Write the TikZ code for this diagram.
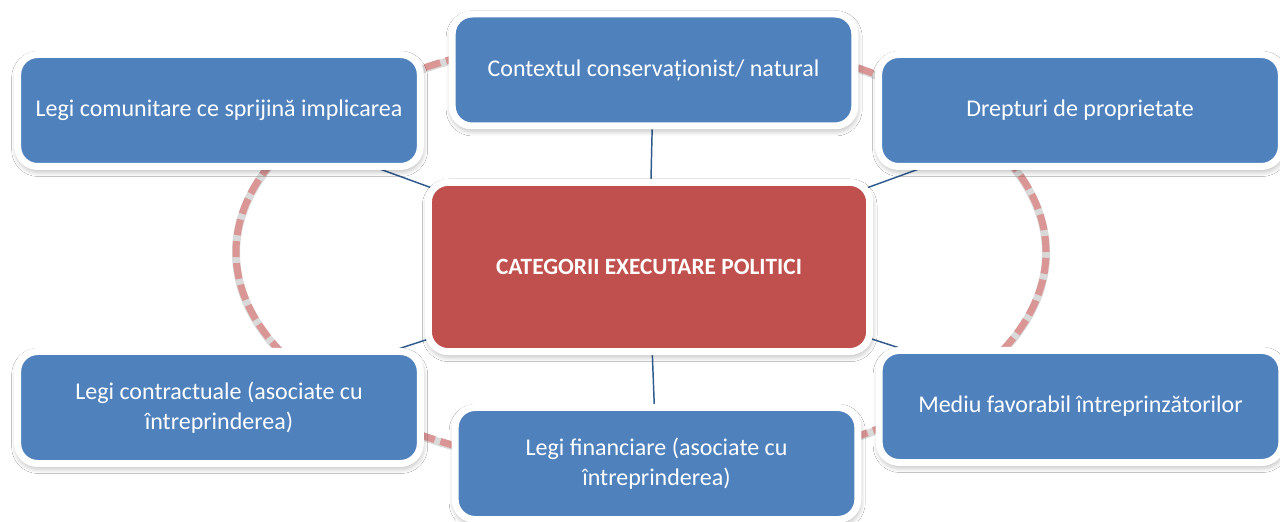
\documentclass[tikz,border=0pt]{standalone}
\usepackage{fontspec}
\setmainfont{Carlito}
\usetikzlibrary{shadows.blur,backgrounds}

\definecolor{boxblue}{HTML}{4F81BD}
\definecolor{boxred}{HTML}{C0504D}
\definecolor{ringpink}{HTML}{D99694}
\definecolor{spokeblue}{HTML}{2F5A8E}

\tikzset{
  card/.style={draw=white, line width=5.25pt, rounded corners=15pt, fill=boxblue,
    text=white, minimum width=302pt, minimum height=84pt, align=center,
    font=\fontsize{18}{22}\selectfont,
    blur shadow={shadow xshift=0.5pt, shadow yshift=-2.5pt, shadow blur radius=5pt,
      shadow opacity=40, shadow blur steps=10}},
  hub/.style={card, fill=boxred, minimum width=331pt, minimum height=127pt,
    font=\bfseries\fontsize{17.5}{21}\selectfont},
  spoke/.style={draw=spokeblue, line width=1.1pt},
  ring/.style={draw=ringpink, line width=5.25pt, dash pattern=on 12pt off 4.5pt},
  ringshade/.style={draw=gray!30, line width=6pt}
}

\begin{document}
\begin{tikzpicture}[x=0.75pt,y=0.75pt]
\useasboundingbox (0,0) rectangle (1280,521);

% centre and the six satellites
\node[hub] (hub) at (649,254) {CATEGORII EXECUTARE POLITICI};
\node[card] (ctx) at (653.5,451) {Contextul conservaționist/ natural};
\node[card] (com) at (219,410.5) {Legi comunitare ce sprijină implicarea};
\node[card] (prop) at (1080,410.5) {Drepturi de proprietate};
\node[card] (contr) at (219,113.5) {Legi contractuale (asociate cu\\întreprinderea)};
\node[card] (env) at (1080.5,114.5) {Mediu favorabil întreprinzătorilor};
\node[card] (fin) at (656.5,57.5) {Legi financiare (asociate cu\\întreprinderea)};

\begin{pgfonlayer}{background}
\fill[white] (0,0) rectangle (1280,521);
\draw[ringshade] (641,268) ellipse [x radius=303.75pt, y radius=163.5pt];
\draw[ring] (641,269) ellipse [x radius=303.75pt, y radius=163.5pt];
\foreach \n in {ctx,com,prop,contr,env,fin}{\draw[spoke] (hub.center) -- (\n.center);}
\end{pgfonlayer}
\end{tikzpicture}
\end{document}
